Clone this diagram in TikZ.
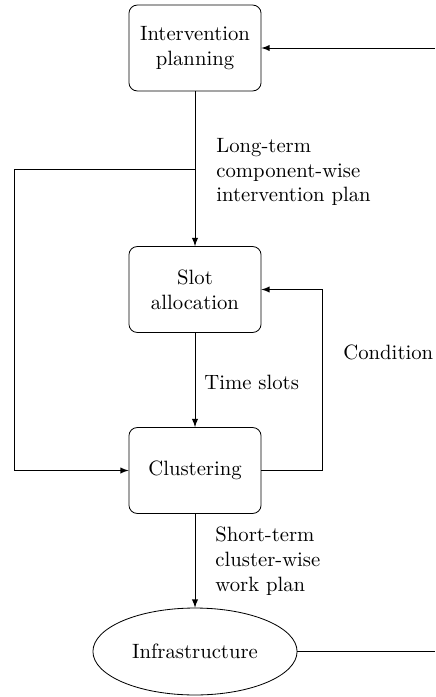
\documentclass[tikz,border=0pt]{standalone}
\usetikzlibrary{shapes.geometric}
\begin{document}
\begin{tikzpicture}[x=0.483pt,y=-0.483pt,
  box/.style={draw, rounded corners=4pt, minimum width=63.8pt, minimum height=41.5pt, align=center, inner sep=0pt},
  ell/.style={draw, ellipse, minimum width=98.6pt, minimum height=42pt, inner sep=0pt},
  lbl/.style={align=left, inner sep=0pt, anchor=west},
  arr/.style={-latex}]
\useasboundingbox (0,0) rectangle (435,697);
\node[box] (ip) at (195,48) {Intervention\\planning};
\node[box] (sa) at (195,289.5) {Slot\\allocation};
\node[box] (cl) at (195,470.5) {Clustering};
\node[ell] (inf) at (195,651.5) {Infrastructure};
\coordinate (split) at (195,169);
\coordinate (lt) at (14,169);
\coordinate (cr) at (322,0);
\coordinate (re) at (435,0);
\draw[arr] (ip) -- (sa);
\draw[arr] (split) -- (lt) |- (cl.west);
\draw[arr] (sa) -- (cl);
\draw[arr] (cl.east) -| (cr |- sa.east) -- (sa.east);
\draw[arr] (cl) -- (inf);
\draw (inf.east) -- (inf.east -| re);
\draw[arr] (ip.east -| re) -- (ip.east);
\node[lbl] (l1) at (216,172) {Long-term\\component-wise\\intervention plan};
\node[lbl] (l2) at (204,382) {Time slots};
\node[lbl] (l3) at (343,352) {Condition};
\node[lbl] (l4) at (215,561) {Short-term\\cluster-wise\\work plan};
\end{tikzpicture}
\end{document}
